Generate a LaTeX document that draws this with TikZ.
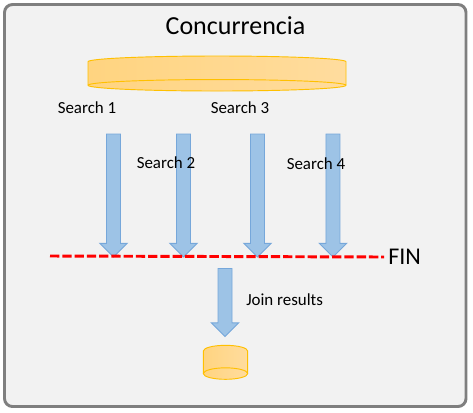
\documentclass[tikz,border=0pt]{standalone}
\usepackage{fontspec}
\setmainfont{Carlito}
\usetikzlibrary{shapes,arrows}
\definecolor{framegray}{HTML}{7F7F7F}
\definecolor{panelgray}{HTML}{F2F2F2}
\definecolor{arrowblue}{HTML}{9DC3E6}
\definecolor{arrowline}{HTML}{76A7DA}
\definecolor{stackline}{HTML}{FFC000}
\definecolor{stackleft}{HTML}{FFD480}
\definecolor{stackright}{HTML}{FFDC9E}
\tikzstyle{panel} = [draw=framegray, line width=2.2pt, rounded corners=6pt, fill=panelgray]
\tikzstyle{downarrow} = [single arrow, draw=arrowline, fill=arrowblue, line width=0.7pt, shape border rotate=270, inner sep=4.9pt, single arrow head extend=5pt, single arrow tip angle=90, single arrow head indent=0pt, minimum width=20pt]
\tikzstyle{stack} = [rectangle, inner sep=0pt, outer sep=0pt]
\tikzstyle{stackface} = [draw=stackline, line width=0.7pt, left color=stackleft, right color=stackright]
\tikzstyle{stackrim} = [draw=stackline, line width=0.7pt]
\tikzstyle{label} = [font=\fontsize{12.7}{15}\selectfont, text=black, inner sep=0pt]
\tikzstyle{finline} = [draw=red, line width=2.2pt, dash pattern=on 7pt off 2.2pt, shorten >=3pt]
% node name, x radius, y radius
\newcommand{\stackshape}[3]{
    \path[stackface] ([yshift=-#3]#1.north west) arc[start angle=180, end angle=0, x radius=#2, y radius=#3]
        -- ([yshift=#3]#1.south east) arc[start angle=0, end angle=-180, x radius=#2, y radius=#3] -- cycle;
    \path[stackrim] ([yshift=#3]#1.south west) arc[start angle=180, end angle=0, x radius=#2, y radius=#3];
}

\begin{document}
\begin{tikzpicture}[x=0.75pt, y=-0.75pt, node distance=52.5pt]
            \useasboundingbox (0,0) rectangle (473,412);
            \draw[panel] (4.5,4.5) rectangle (466,406.5);

            \node[label, font=\fontsize{19.5}{23}\selectfont] (title) at (235.5,26) {Concurrencia};
            \node[stack, minimum width=193.5pt, minimum height=26.25pt] (source) at (217,73.5) {};
            \stackshape{source}{96.75pt}{4.3pt}

            \node[downarrow, minimum height=92.25pt] (search1) at (113.5,192) {};
            \node[downarrow, minimum height=92.25pt, right of=search1] (search2) {};
            \node[downarrow, minimum height=92.25pt, right of=search2, node distance=55.5pt] (search3) {};
            \node[downarrow, minimum height=92.25pt, right of=search3, node distance=56.6pt] (search4) {};

            \node[label] at (87,108) (label1) {Search 1};
            \node[label] at (166,163) (label2) {Search 2};
            \node[label] at (240,108) (label3) {Search 3};
            \node[label] at (316,164) (label4) {Search 4};

            \coordinate (finstart) at (50,256);
            \node[label, font=\fontsize{18}{21}\selectfont, anchor=west] (fin) at (388,257) {FIN};
            \path[finline] (finstart) -- (fin.west);

            \node[downarrow, minimum height=51pt] (join) at (225,299) {};
            \node[label, anchor=west] (joinlabel) at (246,300) {Join results};
            \node[stack, minimum width=33.3pt, minimum height=25.5pt] (result) at (225.5,362.3) {};
            \stackshape{result}{16.65pt}{4.3pt}
        \end{tikzpicture}
\end{document}
